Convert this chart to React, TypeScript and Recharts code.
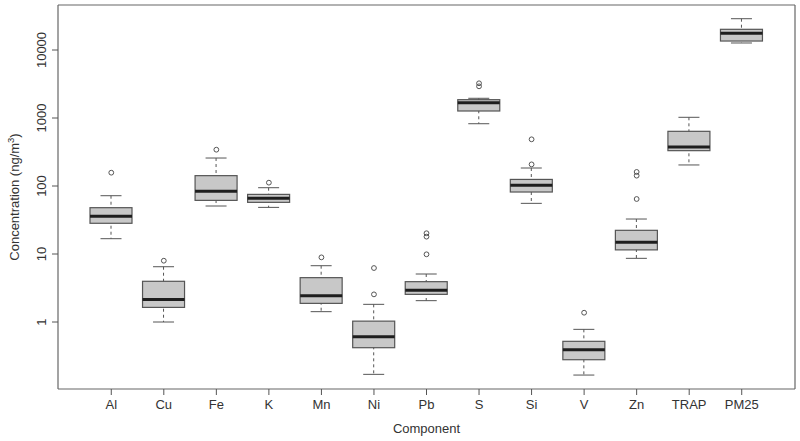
import { ComposedChart, Bar, Scatter, XAxis, YAxis } from "recharts";

const categories = ["Al", "Cu", "Fe", "K", "Mn", "Ni", "Pb", "S", "Si", "V", "Zn", "TRAP", "PM25"];
const lowerWhisker = [16.8, 1.0, 50.8, 48.5, 1.42, 0.17, 2.06, 824, 55.6, 0.166, 8.64, 204, 12680];
const q1 = [28.3, 1.64, 61.5, 57.5, 1.88, 0.419, 2.55, 1268, 81.6, 0.279, 11.5, 331, 13550];
const median = [35.8, 2.15, 83.5, 65.9, 2.44, 0.608, 2.92, 1680, 103, 0.392, 14.9, 375, 17600];
const q3 = [48, 3.97, 142, 75.3, 4.49, 1.03, 3.92, 1860, 125, 0.52, 22.3, 637, 20150];
const upperWhisker = [72, 6.5, 258, 94.4, 6.73, 1.82, 5.08, 1950, 184, 0.78, 32.7, 1024, 28850];
const outliers: number[][] = [
  [157], [7.97], [342], [112], [8.93], [6.22, 2.55], [20.2, 18.0, 9.9],
  [3240, 2923], [486, 208], [1.37], [161, 142, 64.4], [], [],
];
const yTicks = [1, 10, 100, 1000, 10000];
const yDomain = [0.1035, 45900];

const data = categories.map((name, i) => ({
  name,
  whisker: [lowerWhisker[i], upperWhisker[i]],
  box: [q1[i], q3[i]],
  med: [median[i], median[i]],
  o1: outliers[i][0] ?? null,
  o2: outliers[i][1] ?? null,
  o3: outliers[i][2] ?? null,
}));

const FONT = "'Liberation Sans', Arial, Helvetica, sans-serif";
const TEXT = "#333";
const LINE = "#555";
const FRAME = { stroke: "#666", strokeWidth: 1.2 };

function WhiskerShape(p: any) {
  const cx = p.x + p.width / 2;
  const cap = p.width / 4;
  return (
    <g>
      <line x1={cx} x2={cx} y1={p.y} y2={p.y + p.height} stroke={LINE} strokeDasharray="3 3" />
      <line x1={cx - cap} x2={cx + cap} y1={p.y} y2={p.y} stroke={LINE} />
      <line x1={cx - cap} x2={cx + cap} y1={p.y + p.height} y2={p.y + p.height} stroke={LINE} />
    </g>
  );
}

function BoxShape(p: any) {
  return <rect x={p.x} y={p.y} width={p.width} height={p.height} fill="#c8c8c8" stroke={LINE} strokeWidth={1.2} />;
}

function MedianShape(p: any) {
  return <line x1={p.x} x2={p.x + p.width} y1={p.y} y2={p.y} stroke="#1e1e1e" strokeWidth={3} />;
}

const outlierShape = (key: string) => (p: any) =>
  p.payload[key] == null ? <g /> : <circle cx={p.cx} cy={p.cy} r={2.4} fill="none" stroke={LINE} strokeWidth={1} />;

function YTick(p: any) {
  const { x, y, payload } = p;
  const tx = x - 4;
  return (
    <text x={tx} y={y} transform={`rotate(-90, ${tx}, ${y})`} textAnchor="middle" fontSize={13} fill={TEXT} fontFamily={FONT}>
      {payload.value}
    </text>
  );
}

export default function App() {
  return (
    <div style={{ position: "absolute", left: 0, top: 0, width: 800, height: 441, background: "#fff" }}>
      <ComposedChart
        width={800}
        height={441}
        data={data}
        margin={{ top: 4, right: 4, left: 0, bottom: 0 }}
        barSize={42}
        barGap={-42}
        style={{ fontFamily: FONT }}
      >
        <XAxis
          dataKey="name"
          height={52}
          padding={{ left: 27, right: 27 }}
          axisLine={FRAME}
          tickLine={{ stroke: LINE }}
          tickSize={6}
          tickMargin={5}
          tick={{ fontSize: 13, fill: TEXT }}
          interval={0}
          label={(props: any) => {
            const vb = props.viewBox;
            return (
              <text x={vb.x + vb.width / 2} y={vb.y + 44} textAnchor="middle" fontSize={13} fill={TEXT}>
                Component
              </text>
            );
          }}
        />
        <XAxis
          xAxisId="top"
          orientation="top"
          dataKey="name"
          height={1}
          padding={{ left: 27, right: 27 }}
          axisLine={FRAME}
          tick={false}
          tickLine={false}
        />
        <YAxis
          scale="log"
          domain={yDomain}
          ticks={yTicks}
          allowDataOverflow
          width={58}
          axisLine={FRAME}
          tickLine={{ stroke: LINE }}
          tickSize={6}
          tick={<YTick />}
          label={(props: any) => {
            const vb = props.viewBox;
            const lx = 19;
            const ly = vb.y + vb.height / 2;
            return (
              <text x={lx} y={ly} transform={`rotate(-90, ${lx}, ${ly})`} textAnchor="middle" fontSize={13} fill={TEXT}>
                Concentration (ng/m
                <tspan dy={-5} fontSize={9.5}>3</tspan>
                <tspan dy={5}>)</tspan>
              </text>
            );
          }}
        />
        <YAxis
          yAxisId="right"
          orientation="right"
          scale="log"
          domain={yDomain}
          allowDataOverflow
          width={1}
          axisLine={FRAME}
          tick={false}
          tickLine={false}
        />
        <Bar dataKey="whisker" shape={WhiskerShape} isAnimationActive={false} />
        <Bar dataKey="box" shape={BoxShape} isAnimationActive={false} />
        <Bar dataKey="med" shape={MedianShape} isAnimationActive={false} />
        <Scatter dataKey="o1" shape={outlierShape("o1")} isAnimationActive={false} />
        <Scatter dataKey="o2" shape={outlierShape("o2")} isAnimationActive={false} />
        <Scatter dataKey="o3" shape={outlierShape("o3")} isAnimationActive={false} />
      </ComposedChart>
    </div>
  );
}
